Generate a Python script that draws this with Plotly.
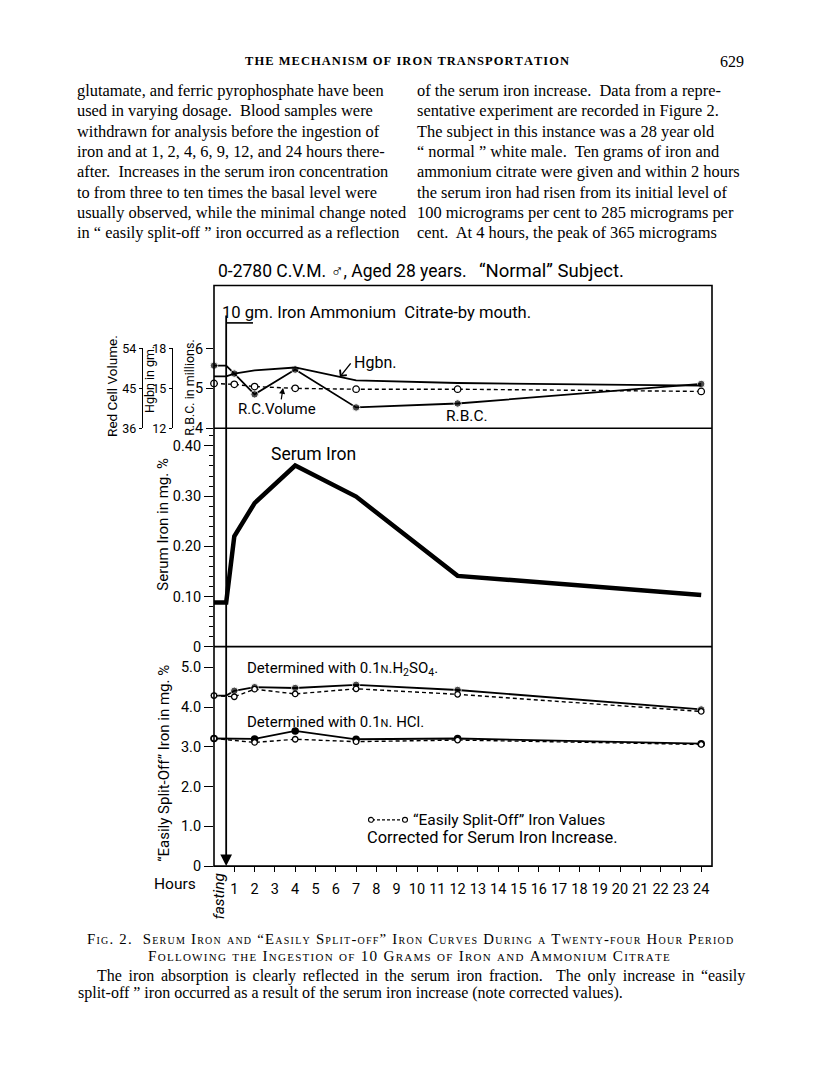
import plotly.graph_objects as go

# ---- page text ----
HEADER = "THE MECHANISM OF IRON TRANSPORTATION"
PAGE_NUMBER = "629"

LEFT_COLUMN = [
    "glutamate, and ferric pyrophosphate have been",
    "used in varying dosage.  Blood samples were",
    "withdrawn for analysis before the ingestion of",
    "iron and at 1, 2, 4, 6, 9, 12, and 24 hours there-",
    "after.  Increases in the serum iron concentration",
    "to from three to ten times the basal level were",
    "usually observed, while the minimal change noted",
    "in \u201c easily split-off \u201d iron occurred as a reflection",
]
RIGHT_COLUMN = [
    "of the serum iron increase.  Data from a repre-",
    "sentative experiment are recorded in Figure 2.",
    "The subject in this instance was a 28 year old",
    "\u201c normal \u201d white male.  Ten grams of iron and",
    "ammonium citrate were given and within 2 hours",
    "the serum iron had risen from its initial level of",
    "100 micrograms per cent to 285 micrograms per",
    "cent.  At 4 hours, the peak of 365 micrograms",
]
CAPTION_TITLE = [
    "Fig. 2.  Serum Iron and \u201cEasily Split-off\u201d Iron Curves During a Twenty-four Hour Period",
    "Following the Ingestion of 10 Grams of Iron and Ammonium Citrate",
]
CAPTION_TEXT = [
    "The iron absorption is clearly reflected in the serum iron fraction.  The only increase in \u201ceasily",
    "split-off \u201d iron occurred as a result of the serum iron increase (note corrected values).",
]

# ---- chart data ----
HOURS = [0, 1, 2, 4, 7, 12, 24]
HCL_HOURS = [0, 2, 4, 7, 12, 24]
INGESTION_HOUR = 0.6
HOUR_TICKS = [1, 2, 3, 4, 5, 6, 7, 8, 9, 10, 11, 12, 13, 14, 15, 16, 17, 18, 19, 20, 21, 22, 23, 24]

rbc_millions = [5.57, 5.37, 4.85, 5.47, 4.52, 4.62, 5.11]
hgbn_gm = [15.9, 16.1, 16.35, 16.57, 15.6, 15.4, 15.2]
red_cell_volume = [46.1, 45.9, 45.4, 45.0, 44.8, 44.8, 44.3]
serum_iron_mg = [0.088, 0.220, 0.286, 0.361, 0.299, 0.141, 0.103]
split_off_h2so4 = [4.29, 4.41, 4.50, 4.48, 4.56, 4.43, 3.94]
split_off_h2so4_corrected = [4.29, 4.26, 4.45, 4.33, 4.46, 4.32, 3.89]
split_off_hcl = [3.21, 3.20, 3.40, 3.19, 3.21, 3.08]
split_off_hcl_corrected = [3.21, 3.11, 3.19, 3.13, 3.17, 3.06]

RBC_TICKS = [4, 5, 6]
HGBN_TICKS = [12, 15, 18]
VOLUME_TICKS = [36, 45, 54]
SERUM_TICKS = [0, 0.1, 0.2, 0.3, 0.4]
SERUM_TICK_TEXT = ["0", "0.10", "0.20", "0.30", "0.40"]
SPLIT_TICKS = [0, 1, 2, 3, 4, 5]
SPLIT_TICK_TEXT = ["0", "1.0", "2.0", "3.0", "4.0", "5.0"]

# ---- page geometry (pixels) ----
W, H = 816, 1066
L, R, T, B = 214, 712, 282, 872
D1, D2 = 427, 649
HOUR_PX = 20.3

SERIF = "Liberation Serif, Times New Roman, serif"
HAND = "Roboto, Liberation Sans, sans-serif"
HAIR = "\u200a"


def fx(px):
    return px / W


def fy(py):
    return 1 - py / H


def held(values):
    # fasting value is held until the iron is given
    xs = [HOURS[0], INGESTION_HOUR] + HOURS[1:]
    ys = [values[0], values[0]] + values[1:]
    return xs, ys


def dot_sizes(n, size):
    return [size, 0] + [size] * (n - 1)


def spaced(s):
    return HAIR.join(s)


def text(x, y, s, size, family=HAND, anchor="left", angle=0, **kw):
    return dict(x=fx(x), y=fy(y), xref="paper", yref="paper", text=s,
                showarrow=False, xanchor=anchor, yanchor="middle", borderpad=0,
                textangle=angle, font=dict(family=family, size=size, color="black", **kw))


fig = go.Figure()

solid = dict(color="black", width=1.8)
dashed = dict(color="black", width=1.4, dash="4px,3px")
open_dot = dict(color="white", size=5.5, line=dict(color="black", width=1.3))

# top panel
x, y = held(rbc_millions)
fig.add_trace(go.Scatter(x=x, y=y, yaxis="y3", mode="lines+markers", cliponaxis=False,
                         line=solid, marker=dict(color="black", size=dot_sizes(len(HOURS), 7.5))))
x, y = held(hgbn_gm)
fig.add_trace(go.Scatter(x=x, y=y, yaxis="y4", mode="lines", cliponaxis=False, line=solid))
fig.add_trace(go.Scatter(x=HOURS, y=red_cell_volume, yaxis="y5", mode="lines+markers",
                         cliponaxis=False, line=dashed,
                         marker=dict(color="white", size=6.5, line=dict(color="black", width=1.3))))

# serum iron
x, y = held(serum_iron_mg)
fig.add_trace(go.Scatter(x=x, y=y, yaxis="y2", mode="lines", cliponaxis=False,
                         line=dict(color="black", width=4.5)))

# easily split-off iron
x, y = held(split_off_h2so4)
fig.add_trace(go.Scatter(x=x, y=y, yaxis="y", mode="lines+markers", cliponaxis=False,
                         line=solid, marker=dict(color="black", size=dot_sizes(len(HOURS), 7.5))))
fig.add_trace(go.Scatter(x=HOURS, y=split_off_h2so4_corrected, yaxis="y", mode="lines+markers",
                         cliponaxis=False, line=dashed, marker=open_dot))
fig.add_trace(go.Scatter(x=HCL_HOURS, y=split_off_hcl, yaxis="y", mode="lines+markers",
                         cliponaxis=False, line=solid, marker=dict(color="black", size=7.5)))
fig.add_trace(go.Scatter(x=HCL_HOURS, y=split_off_hcl_corrected, yaxis="y", mode="lines+markers",
                         cliponaxis=False, line=dashed, marker=open_dot))

tick_font = dict(family=HAND, size=14.5, color="black")
common = dict(showgrid=False, zeroline=False, showline=False, ticks="outside",
              tickcolor="black", tickwidth=1.4, tickfont=tick_font)
bracket = dict(showgrid=False, zeroline=False, ticks="outside", tickcolor="black", tickwidth=1.4,
               showline=True, linecolor="black", linewidth=1.4, ticklen=3,
               tickfont=dict(family=HAND, size=12.5, color="black"))

fig.update_layout(
    width=W, height=H, margin=dict(l=0, r=0, t=0, b=0),
    paper_bgcolor="white", plot_bgcolor="rgba(0,0,0,0)", showlegend=False,
    xaxis=dict(domain=[fx(L), fx(R)], range=[0, (R - L) / HOUR_PX], anchor="y",
               tickvals=HOUR_TICKS, ticklen=5, tickangle=0, ticklabelstandoff=5, **common),
    yaxis=dict(domain=[fy(B), fy(D2)], range=[0, (B - D2) / 40.4], anchor="x",
               tickvals=SPLIT_TICKS, ticktext=SPLIT_TICK_TEXT, ticklen=9, **common),
    yaxis2=dict(domain=[fy(D2), fy(D1)], range=[0, (D2 - D1) / 510], anchor="x",
                tickvals=SERUM_TICKS, ticktext=SERUM_TICK_TEXT, ticklen=9,
                minor=dict(dtick=0.02, tick0=0, ticks="outside", ticklen=4,
                           tickcolor="black", tickwidth=1), **common),
    yaxis3=dict(domain=[fy(D1), fy(T)], range=[4, 4 + (D1 - T) / 40.5], anchor="x",
                tickvals=RBC_TICKS, ticklen=7, **common),
    yaxis4=dict(domain=[fy(D1), fy(346)], range=[12, 18], anchor="free", position=fx(172),
                tickvals=HGBN_TICKS, **bracket),
    yaxis5=dict(domain=[fy(D1), fy(346)], range=[36, 54], anchor="free", position=fx(142),
                tickvals=VOLUME_TICKS, **bracket),
)

# frame and panel dividers
line = dict(color="black", width=1.6)
fig.add_shape(type="rect", xref="paper", yref="paper", x0=fx(L), x1=fx(R), y0=fy(B), y1=fy(T),
              line=line)
for py in (D1, D2):
    fig.add_shape(type="line", xref="paper", yref="paper", x0=fx(L), x1=fx(R), y0=fy(py), y1=fy(py),
                  line=line)
# dose bracket over the ingestion arrow
fig.add_shape(type="line", xref="x", yref="paper", x0=INGESTION_HOUR, x1=1.92, y0=fy(320), y1=fy(320),
              line=line)
# ingestion arrow
fig.add_annotation(x=INGESTION_HOUR, y=0, xref="x", yref="y", ax=0, ay=-(B - 320),
                   text="", showarrow=True, arrowhead=2, arrowsize=1.3, arrowwidth=1.8,
                   arrowcolor="black")
# pointers to curves
fig.add_annotation(x=6.2, y=15.86, xref="x", yref="y4", ax=12, ay=-15, text="", showarrow=True,
                   arrowhead=4, arrowsize=1.2, arrowwidth=1.4, arrowcolor="black")
fig.add_annotation(x=3.4, y=45.1, xref="x", yref="y5", ax=-2, ay=13, text="", showarrow=True,
                   arrowhead=2, arrowsize=1, arrowwidth=1.2, arrowcolor="black")

ann = []
# page header and body
ann.append(text(407, 54, "<b>" + spaced(HEADER) + "</b>", 12.5, SERIF, "center"))
ann.append(text(745, 54, PAGE_NUMBER, 16, SERIF, "right"))
for i, s in enumerate(LEFT_COLUMN):
    ann.append(text(76, 84 + 20.6 * i, s, 16.4, SERIF))
for i, s in enumerate(RIGHT_COLUMN):
    ann.append(text(416, 84 + 20.6 * i, s, 16.4, SERIF))

# chart lettering
ann.append(text(217, 267, "0-2780 C.V.M. \u2642, Aged 28 years.", 17.5))
ann.append(text(478, 267, "\u201cNormal\u201d Subject.", 18.5))
ann.append(text(221, 309, "10 gm. Iron Ammonium  Citrate-by mouth.", 16.6))
ann.append(text(353, 360, "Hgbn.", 16))
ann.append(text(237, 408, "R.C.Volume", 15))
ann.append(text(445, 415, "R.B.C.", 15.5))
ann.append(text(270, 453, "Serum Iron", 17.5))
ann.append(text(246, 672, "Determined with 0.1<span style='font-size:11px'>N</span>.H<sub>2</sub>SO<sub>4</sub>.", 15))
ann.append(text(246, 726, "Determined with 0.1<span style='font-size:11px'>N</span>. HCl.", 15))
ann.append(text(412, 825, "\u201cEasily Split-Off\u201d Iron Values", 15.5))
ann.append(text(366, 843, "Corrected for Serum Iron Increase.", 16.4))
ann.append(text(197, 890, "Hours", 15.5, anchor="right"))
ann.append(text(219, 903, "<i>fasting</i>", 15.5, angle=-90, anchor="center"))

# axis titles
ann.append(text(112, 384, "Red Cell Volume.", 13.5, angle=-90, anchor="center"))
ann.append(text(150, 378, "Hgbn in gm.", 12.5, angle=-90, anchor="center"))
ann.append(text(190, 386, "R.B.C. in millions.", 12.5, angle=-90, anchor="center"))
ann.append(text(163, 525, "Serum Iron in mg. %", 15, angle=-90, anchor="center"))
ann.append(text(164, 768, "\u201cEasily Split-Off\u201d Iron in mg. %", 15, angle=-90, anchor="center"))

# caption
ann.append(text(410, 946, spaced(CAPTION_TITLE[0]), 14.8, SERIF, "center", variant="small-caps"))
ann.append(text(409, 963, spaced(CAPTION_TITLE[1]), 15.2, SERIF, "center", variant="small-caps"))
ann.append(text(96, 984, CAPTION_TEXT[0].replace(" ", " " + HAIR + HAIR), 16, SERIF))
ann.append(text(77, 1001, CAPTION_TEXT[1], 16, SERIF))

for a in ann:
    fig.add_annotation(**a)

# legend key for corrected values
fig.add_shape(type="line", xref="paper", yref="paper", x0=fx(372), x1=fx(404), y0=fy(825), y1=fy(825),
              line=dict(color="black", width=1.2, dash="3px,2px"))
for cx in (371, 405):
    fig.add_shape(type="circle", xref="paper", yref="paper", x0=fx(cx - 2.5), x1=fx(cx + 2.5),
                  y0=fy(825 + 2.5), y1=fy(825 - 2.5), line=dict(color="black", width=1.1),
                  fillcolor="white")

fig.write_html("out.html", config={"displayModeBar": False},
               post_script="document.body.style.margin = '0';")
